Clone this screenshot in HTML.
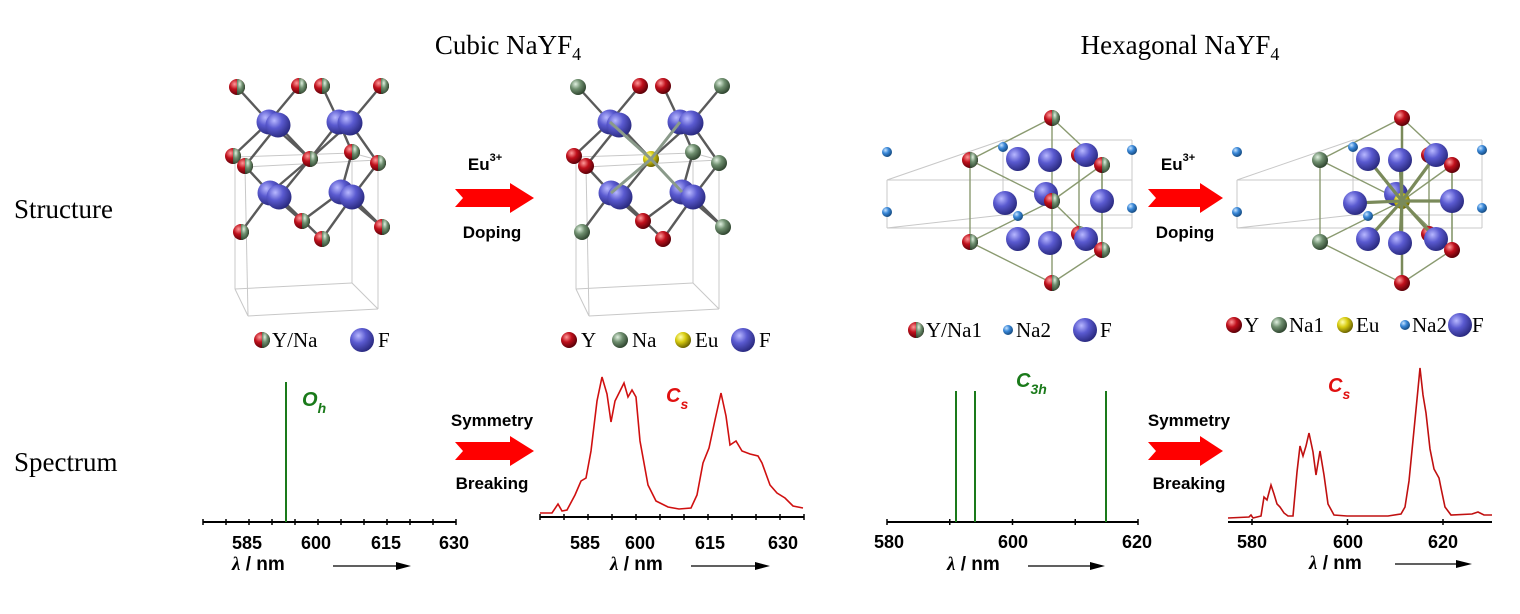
<!DOCTYPE html>
<html><head><meta charset="utf-8">
<style>
html,body{margin:0;padding:0;background:#fff;}
svg{display:block;}
.ser{font-family:"Liberation Serif",serif;}
.sans{font-family:"Liberation Sans",sans-serif;font-weight:bold;}
</style></head>
<body>
<svg id="s" width="1520" height="614" viewBox="0 0 1520 614" xmlns="http://www.w3.org/2000/svg">
<defs>
<radialGradient id="gF" cx="0.35" cy="0.32" r="0.7"><stop offset="0" stop-color="#b8b8ff"/><stop offset="0.45" stop-color="#5a5ad0"/><stop offset="1" stop-color="#2a2a80"/></radialGradient>
<radialGradient id="gR" cx="0.35" cy="0.32" r="0.7"><stop offset="0" stop-color="#ff9a9a"/><stop offset="0.45" stop-color="#c0101c"/><stop offset="1" stop-color="#5a0008"/></radialGradient>
<radialGradient id="gG" cx="0.35" cy="0.32" r="0.7"><stop offset="0" stop-color="#e0f0e0"/><stop offset="0.45" stop-color="#6f8f6f"/><stop offset="1" stop-color="#2f452f"/></radialGradient>
<radialGradient id="gY" cx="0.35" cy="0.32" r="0.7"><stop offset="0" stop-color="#ffffb0"/><stop offset="0.45" stop-color="#d8cc10"/><stop offset="1" stop-color="#6a6200"/></radialGradient>
<radialGradient id="gB" cx="0.35" cy="0.32" r="0.7"><stop offset="0" stop-color="#c8e4ff"/><stop offset="0.45" stop-color="#3a88d8"/><stop offset="1" stop-color="#154a80"/></radialGradient>
</defs>

<text class="ser" x="508" y="54" font-size="27" text-anchor="middle">Cubic NaYF<tspan font-size="18" dy="6">4</tspan></text>
<text class="ser" x="1180" y="54" font-size="27" text-anchor="middle">Hexagonal NaYF<tspan font-size="18" dy="6">4</tspan></text>
<text class="ser" x="14" y="218" font-size="27">Structure</text>
<text class="ser" x="14" y="471" font-size="27">Spectrum</text>

<g id="struct"></g>

<polygon points="455,189 510,189 510,183 534,198 510,213 510,207 455,207 463,198" fill="#ff0000"/>
<text class="sans" x="485" y="170" font-size="17" text-anchor="middle">Eu<tspan font-size="11" dy="-9">3+</tspan></text>
<text class="sans" x="492" y="238" font-size="17" text-anchor="middle">Doping</text>
<polygon points="1148,189 1200,189 1200,183 1223,198 1200,213 1200,207 1148,207 1156,198" fill="#ff0000"/>
<text class="sans" x="1178" y="170" font-size="17" text-anchor="middle">Eu<tspan font-size="11" dy="-9">3+</tspan></text>
<text class="sans" x="1185" y="238" font-size="17" text-anchor="middle">Doping</text>

<polygon points="455,442 510,442 510,436 534,451 510,466 510,460 455,460 463,451" fill="#ff0000"/>
<text class="sans" x="492" y="426" font-size="17" text-anchor="middle">Symmetry</text>
<text class="sans" x="492" y="489" font-size="17" text-anchor="middle">Breaking</text>
<polygon points="1148,442 1200,442 1200,436 1223,451 1200,466 1200,460 1148,460 1156,451" fill="#ff0000"/>
<text class="sans" x="1189" y="426" font-size="17" text-anchor="middle">Symmetry</text>
<text class="sans" x="1189" y="489" font-size="17" text-anchor="middle">Breaking</text>

<line x1="203" y1="522" x2="456" y2="522" stroke="#000" stroke-width="2"/>
<g id="t1"></g>
<line x1="286" y1="382" x2="286" y2="522" stroke="#1a7a1a" stroke-width="2"/>
<text class="sans" x="302" y="406" font-size="20" fill="#1a7a1a" font-style="italic">O<tspan font-size="14" dy="7">h</tspan></text>
<g class="sans" font-size="18" text-anchor="middle"><text x="247" y="549">585</text><text x="316" y="549">600</text><text x="386" y="549">615</text><text x="454" y="549">630</text></g>
<text class="sans" x="232" y="570" font-size="19"><tspan font-family="Liberation Serif" font-style="italic">λ</tspan> / nm</text>
<line x1="333" y1="566" x2="398" y2="566" stroke="#000" stroke-width="1.2"/><polygon points="396,562 411,566 396,570" fill="#000"/>

<line x1="540" y1="517" x2="804" y2="517" stroke="#000" stroke-width="2"/>
<g id="t2"></g>
<path fill="none" stroke="#d01010" stroke-width="1.6" d="M540,513 L552,513 558,504 562,511 567,510 575,495 581,481 586,478 591,451 597,401 602,377 607,394 611,422 615,401 620,391 624,383 628,397 632,390 636,397 640,441 648,485 656,501 668,507 679,509 691,508 697,495 703,463 709,448 715,420 721,393 726,416 730,445 736,441 742,451 750,454 758,456 762,463 770,485 777,493 785,498 793,506 803,508"/>
<text class="sans" x="666" y="402" font-size="20" fill="#e01010" font-style="italic">C<tspan font-size="14" dy="7">s</tspan></text>
<g class="sans" font-size="18" text-anchor="middle"><text x="585" y="549">585</text><text x="640" y="549">600</text><text x="710" y="549">615</text><text x="783" y="549">630</text></g>
<text class="sans" x="610" y="570" font-size="19"><tspan font-family="Liberation Serif" font-style="italic">λ</tspan> / nm</text>
<line x1="691" y1="566" x2="757" y2="566" stroke="#000" stroke-width="1.2"/><polygon points="755,562 770,566 755,570" fill="#000"/>

<line x1="887" y1="522" x2="1138" y2="522" stroke="#000" stroke-width="2"/>
<g id="t3"></g>
<line x1="956" y1="391" x2="956" y2="522" stroke="#1a7a1a" stroke-width="2"/>
<line x1="975" y1="391" x2="975" y2="522" stroke="#1a7a1a" stroke-width="2"/>
<line x1="1106" y1="391" x2="1106" y2="522" stroke="#1a7a1a" stroke-width="2"/>
<text class="sans" x="1016" y="387" font-size="20" fill="#1a7a1a" font-style="italic">C<tspan font-size="14" dy="7">3h</tspan></text>
<g class="sans" font-size="18" text-anchor="middle"><text x="889" y="548">580</text><text x="1013" y="548">600</text><text x="1137" y="548">620</text></g>
<text class="sans" x="947" y="570" font-size="19"><tspan font-family="Liberation Serif" font-style="italic">λ</tspan> / nm</text>
<line x1="1028" y1="566" x2="1092" y2="566" stroke="#000" stroke-width="1.2"/><polygon points="1090,562 1105,566 1090,570" fill="#000"/>

<line x1="1228" y1="522" x2="1492" y2="522" stroke="#000" stroke-width="2"/>
<g id="t4"></g>
<path fill="none" stroke="#c01010" stroke-width="1.6" d="M1228,518 L1249,517 1251,515 1253,518 1261,516 1264,497 1267,500 1271,485 1274,494 1277,504 1280,507 1284,513 1288,516 1293,516 1297,472 1300,446 1303,456 1306,446 1309,433 1313,452 1316,475 1320,451 1324,475 1328,504 1334,515 1347,516 1388,516 1401,514 1405,507 1409,481 1414,430 1418,389 1420,368 1423,395 1426,413 1430,449 1434,469 1439,478 1441,488 1445,507 1451,515 1472,514 1478,512 1484,515 1492,515"/>
<text class="sans" x="1328" y="392" font-size="20" fill="#e01010" font-style="italic">C<tspan font-size="14" dy="7">s</tspan></text>
<g class="sans" font-size="18" text-anchor="middle"><text x="1252" y="548">580</text><text x="1348" y="548">600</text><text x="1443" y="548">620</text></g>
<text class="sans" x="1309" y="569" font-size="19"><tspan font-family="Liberation Serif" font-style="italic">λ</tspan> / nm</text>
<line x1="1395" y1="564" x2="1458" y2="564" stroke="#000" stroke-width="1.2"/><polygon points="1456,560 1472,564 1456,568" fill="#000"/>

<g class="ser" font-size="21">
<text x="272" y="347">Y/Na</text><text x="378" y="347">F</text>
<text x="581" y="347">Y</text><text x="632" y="347">Na</text><text x="695" y="347">Eu</text><text x="759" y="347">F</text>
<text x="926" y="337">Y/Na1</text><text x="1016" y="337">Na2</text><text x="1100" y="337">F</text>
<text x="1244" y="332">Y</text><text x="1289" y="332">Na1</text><text x="1356" y="332">Eu</text><text x="1412" y="332">Na2</text><text x="1472" y="332">F</text>
</g>
</svg>
<script>
var NS="http://www.w3.org/2000/svg";
var g=document.getElementById("struct");
function el(n,a,p){var e=document.createElementNS(NS,n);for(var k in a)e.setAttribute(k,a[k]);(p||g).appendChild(e);return e;}
function ln(x1,y1,x2,y2,c,w){el("line",{x1:x1,y1:y1,x2:x2,y2:y2,stroke:c||"#666",'stroke-width':w||2.2});}
function sp(x,y,r,t){
 if(t=="M"){el("circle",{cx:x,cy:y,r:r,fill:"url(#gR)"});
  el("path",{d:"M"+x+","+(y-r)+" A"+r+","+r+" 0 0 1 "+x+","+(y+r)+" Z",fill:"url(#gG)"});return;}
 var f={F:"url(#gF)",R:"url(#gR)",G:"url(#gG)",Y:"url(#gY)",B:"url(#gB)"}[t];
 el("circle",{cx:x,cy:y,r:r,fill:f});
}
function box(pts,c){for(var i=0;i<pts.length;i++){var a=pts[i];ln(a[0],a[1],a[2],a[3],c||"#c8c8c8",1);}}
function cubic(dx,col){
 box([[235,157,352,153],[352,153,378,160],[378,160,245,167],[245,167,235,157],
      [235,289,352,283],[352,283,378,309],[378,309,248,316],[248,316,235,289],
      [235,157,235,289],[352,153,352,283],[378,160,378,309],[245,167,248,316]].map(function(a){return [a[0]+dx,a[1],a[2]+dx,a[3]];}));
 var M=[[237,87],[299,86],[322,86],[381,86],[233,156],[245,166],[310,159],[352,152],[378,163],[241,232],[302,221],[322,239],[382,227]];
 var F=[[269,122],[278,125],[339,122],[350,123],[270,193],[279,197],[341,192],[352,197]];
 var bonds=[[0,0],[0,1],[0,4],[0,6],[1,6],[1,5],[2,2],[2,6],[2,7],[3,3],[3,8],[3,6],[4,5],[4,9],[4,10],[4,6],[5,11],[5,6],[6,10],[6,7],[6,12],[7,12],[7,8],[7,11]];
 bonds.forEach(function(b){ln(F[b[0]][0]+dx,F[b[0]][1],M[b[1]][0]+dx,M[b[1]][1],"#5a5a5a",2.4);});
 M.forEach(function(m,i){if(i==6&&col)return;sp(m[0]+dx,m[1],8,col?col[i]:"M");});
 F.forEach(function(f){sp(f[0]+dx,f[1],12.5,"F");});
 if(col){sp(310+dx,159,8,"Y");
   [[0,1],[2,3],[4,5],[6,7]].forEach(function(p){ln(310+dx,159,F[p[0]][0]+dx,F[p[0]][1],"#8a9a8a",3);});}
}
cubic(0,null);
cubic(341,["G","R","R","G","R","R","Y","G","G","G","R","R","G"]);
function hex(dx,right){
 box([[887,180,1003,140],[1003,140,1132,140],[1132,140,1132,180],[887,180,1132,180],[887,180,887,228],[1132,180,1132,228],[887,228,1132,228],[887,228,1003,215],[1003,215,1132,215],[1003,140,1003,215],[1132,215,1132,228]].map(function(a){return [a[0]+dx,a[1],a[2]+dx,a[3]];}));
 var M=[[1052,118],[970,160],[1102,165],[1079,155],[1052,201],[970,242],[1102,250],[1079,234],[1052,283]];
 var Fs=[[1018,159],[1050,160],[1086,155],[1005,203],[1046,194],[1102,201],[1018,239],[1050,243],[1086,239]];
 var N=[[887,152],[887,212],[1003,147],[1018,155],[1132,150],[1132,208],[1018,216]];
 var c="#8a9a70";
 [[0,1],[0,2],[0,8],[1,5],[2,6],[5,8],[6,8],[1,4],[2,4],[5,4],[6,4],[3,7],[2,6]].forEach(function(b){ln(M[b[0]][0]+dx,M[b[0]][1],M[b[1]][0]+dx,M[b[1]][1],c,1.4);});
 var cols=right?["R","G","R","R",null,"G","R","R","R"]:null;
 N.forEach(function(n){sp(n[0]+dx,n[1],5,"B");});
 [3,7].forEach(function(i){sp(M[i][0]+dx,M[i][1],8,cols?cols[i]:"M");});
 Fs.forEach(function(f,i){if(i==4)sp(f[0]+dx,f[1],12,"F");});
 if(right){sp(1052+dx,201,8,"Y");
  Fs.forEach(function(f,i){if(i!=4)ln(1052+dx,201,f[0]+dx,f[1],"#7a8a5a",3.2);});
  ln(1052+dx,118,1052+dx,283,"#7a8a5a",2.5);}
 Fs.forEach(function(f,i){if(i!=4)sp(f[0]+dx,f[1],12,"F");});
 [0,1,2,5,6,8].forEach(function(i){sp(M[i][0]+dx,M[i][1],8,cols?cols[i]:"M");});
 if(!right)sp(1052,201,8,"M");
}
hex(0,false);
hex(350,true);
sp(262,340,8,"M");sp(362,340,12,"F");
sp(569,340,8,"R");sp(620,340,8,"G");sp(683,340,8,"Y");sp(743,340,12,"F");
sp(916,330,8,"M");sp(1008,330,5,"B");sp(1085,330,12,"F");
sp(1234,325,8,"R");sp(1279,325,8,"G");sp(1345,325,8,"Y");sp(1405,325,5,"B");sp(1460,325,12,"F");
function ticks(id,x0,x1,y,n){var p=document.getElementById(id);for(var i=0;i<=n;i++){var x=x0+(x1-x0)*i/n;el("line",{x1:x,y1:y-3,x2:x,y2:y+3,stroke:"#000",'stroke-width':1.5},p);}}
ticks("t1",203,456,522,11);
ticks("t2",540,804,517,11);
ticks("t3",887,1138,522,4);
ticks("t4",1252,1443,522,2);
</script>
</body></html>
